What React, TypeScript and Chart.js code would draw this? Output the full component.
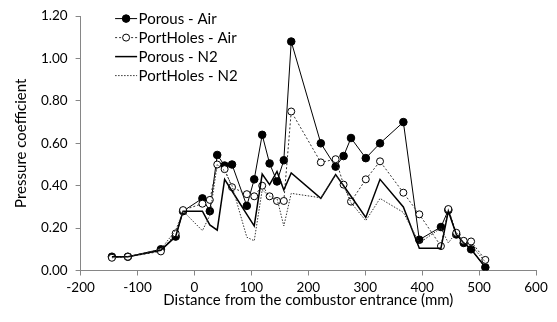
import React, { useEffect, useRef } from "react";
import { Chart, registerables } from "chart.js";

Chart.register(...registerables);

const xPositions = [-145, -117, -59, -33, -20, 14, 27, 40, 53, 66, 92, 105, 119, 132, 145, 157, 170, 222, 248, 262, 275, 301, 326, 367, 395, 433, 446, 460, 473, 486, 511];
const porousAir = [0.065, 0.065, 0.10, 0.16, 0.28, 0.34, 0.28, 0.545, 0.495, 0.50, 0.305, 0.43, 0.64, 0.505, 0.42, 0.52, 1.08, 0.60, 0.49, 0.54, 0.625, 0.53, 0.60, 0.70, 0.145, 0.205, 0.285, 0.17, 0.13, 0.10, 0.015];
const portHolesAir = [0.06, 0.065, 0.09, 0.175, 0.285, 0.315, 0.333, 0.50, 0.478, 0.393, 0.36, 0.35, 0.40, 0.35, 0.328, 0.328, 0.75, 0.51, 0.525, 0.405, 0.325, 0.43, 0.515, 0.367, 0.265, 0.115, 0.29, 0.178, 0.14, 0.137, 0.05];
const porousN2 = [0.065, 0.065, 0.095, 0.16, 0.28, 0.28, 0.215, 0.19, 0.43, 0.375, 0.265, 0.21, 0.455, 0.405, 0.467, 0.38, 0.46, 0.34, 0.452, 0.40, 0.35, 0.25, 0.43, 0.30, 0.105, 0.105, 0.28, 0.17, 0.13, 0.10, 0.015];
const portHolesN2 = [0.06, 0.065, 0.10, 0.19, 0.28, 0.188, 0.26, 0.50, 0.47, 0.40, 0.157, 0.14, 0.38, 0.35, 0.34, 0.21, 0.364, 0.343, 0.45, 0.40, 0.32, 0.235, 0.34, 0.274, 0.13, 0.20, 0.13, 0.18, 0.13, 0.12, 0.04];

const seriesNames = ["Porous - Air", "PortHoles - Air", "Porous - N2", "PortHoles - N2"];
const xTitle = "Distance from the combustor entrance (mm)";
const yTitle = "Pressure coefficient";

const FONT = "Lato, 'Liberation Sans', sans-serif";

const toPoints = (ys: number[]) => xPositions.map((x, i) => ({ x, y: ys[i] }));

const legendPlugin = {
  id: "insideLegend",
  afterDraw(chart: any) {
    const { ctx, chartArea } = chart;
    const x0 = chartArea.left + 34.5;
    const x1 = chartArea.left + 56.5;
    const tx = chartArea.left + 58;
    ctx.save();
    ctx.font = `15px ${FONT}`;
    ctx.textBaseline = "middle";
    ctx.textAlign = "left";
    chart.data.datasets.forEach((ds: any, i: number) => {
      const y = chartArea.top + 2.5 + i * 19;
      ctx.beginPath();
      ctx.setLineDash(ds.borderDash || []);
      ctx.lineWidth = ds.borderWidth;
      ctx.strokeStyle = ds.borderColor;
      ctx.moveTo(x0, y);
      ctx.lineTo(x1, y);
      ctx.stroke();
      ctx.setLineDash([]);
      if (ds.pointRadius > 0) {
        ctx.beginPath();
        ctx.arc((x0 + x1) / 2, y, ds.pointRadius, 0, Math.PI * 2);
        ctx.fillStyle = ds.pointBackgroundColor;
        ctx.fill();
        ctx.lineWidth = 1;
        ctx.strokeStyle = "#000";
        ctx.stroke();
      }
      ctx.fillStyle = "#000";
      ctx.fillText(ds.label, tx, y + 0.5);
    });
    ctx.restore();
  },
};

export default function App() {
  const ref = useRef<HTMLCanvasElement>(null);
  useEffect(() => {
    const canvas = ref.current!;
    const chart = new Chart(canvas, {
      type: "line",
      data: {
        datasets: [
          {
            label: seriesNames[0],
            data: toPoints(porousAir),
            borderColor: "#000",
            borderWidth: 1,
            pointRadius: 3.8,
            pointBackgroundColor: "#000",
            pointBorderColor: "#000",
            pointBorderWidth: 1,
            order: 3,
          },
          {
            label: seriesNames[1],
            data: toPoints(portHolesAir),
            borderColor: "#333",
            borderWidth: 1,
            borderDash: [2, 2],
            pointRadius: 3.5,
            pointBackgroundColor: "#fff",
            pointBorderColor: "#000",
            pointBorderWidth: 1,
            order: 2,
          },
          {
            label: seriesNames[2],
            data: toPoints(porousN2),
            borderColor: "#000",
            borderWidth: 1.5,
            pointRadius: 0,
            pointBackgroundColor: "#000",
            order: 1,
          },
          {
            label: seriesNames[3],
            data: toPoints(portHolesN2),
            borderColor: "#333",
            borderWidth: 1,
            borderDash: [1.5, 1.5],
            pointRadius: 0,
            pointBackgroundColor: "#000",
            order: 0,
          },
        ] as any,
      },
      options: {
        animation: false,
        responsive: false,
        devicePixelRatio: 1,
        layout: { padding: { left: 0, right: 21, top: 12.5, bottom: 0 } },
        plugins: { legend: { display: false }, tooltip: { enabled: false } },
        elements: { line: { tension: 0 } },
        scales: {
          x: {
            type: "linear",
            min: -200,
            max: 600,
            afterFit: (s: any) => { s.height = 51.5; },
            ticks: { stepSize: 100, color: "#000", font: { family: FONT, size: 13.5 }, padding: 4, maxRotation: 0 },
            grid: { display: true, drawOnChartArea: false, tickLength: 5, color: "#868686" },
            border: { color: "#868686" },
            title: { display: true, text: xTitle, color: "#000", font: { family: FONT, size: 15 }, padding: { top: 0, bottom: 12.5 } },
          },
          y: {
            min: 0,
            max: 1.2,
            afterFit: (s: any) => { s.width = 80.6; },
            ticks: { stepSize: 0.2, color: "#000", font: { family: FONT, size: 13.5 }, padding: 8, callback: (v: any) => Number(v).toFixed(2) },
            grid: { display: true, drawOnChartArea: false, tickLength: 5, color: "#868686" },
            border: { color: "#868686" },
            title: { display: true, text: yTitle, color: "#000", font: { family: FONT, size: 15 }, padding: { top: 12.5, bottom: 0 } },
          },
        },
      },
      plugins: [legendPlugin],
    });
    return () => chart.destroy();
  }, []);
  return (
    <div style={{ position: "absolute", left: 0, top: 0, width: 557, height: 322, background: "#fff" }}>
      <canvas ref={ref} width={557} height={322} style={{ display: "block" }} />
    </div>
  );
}
